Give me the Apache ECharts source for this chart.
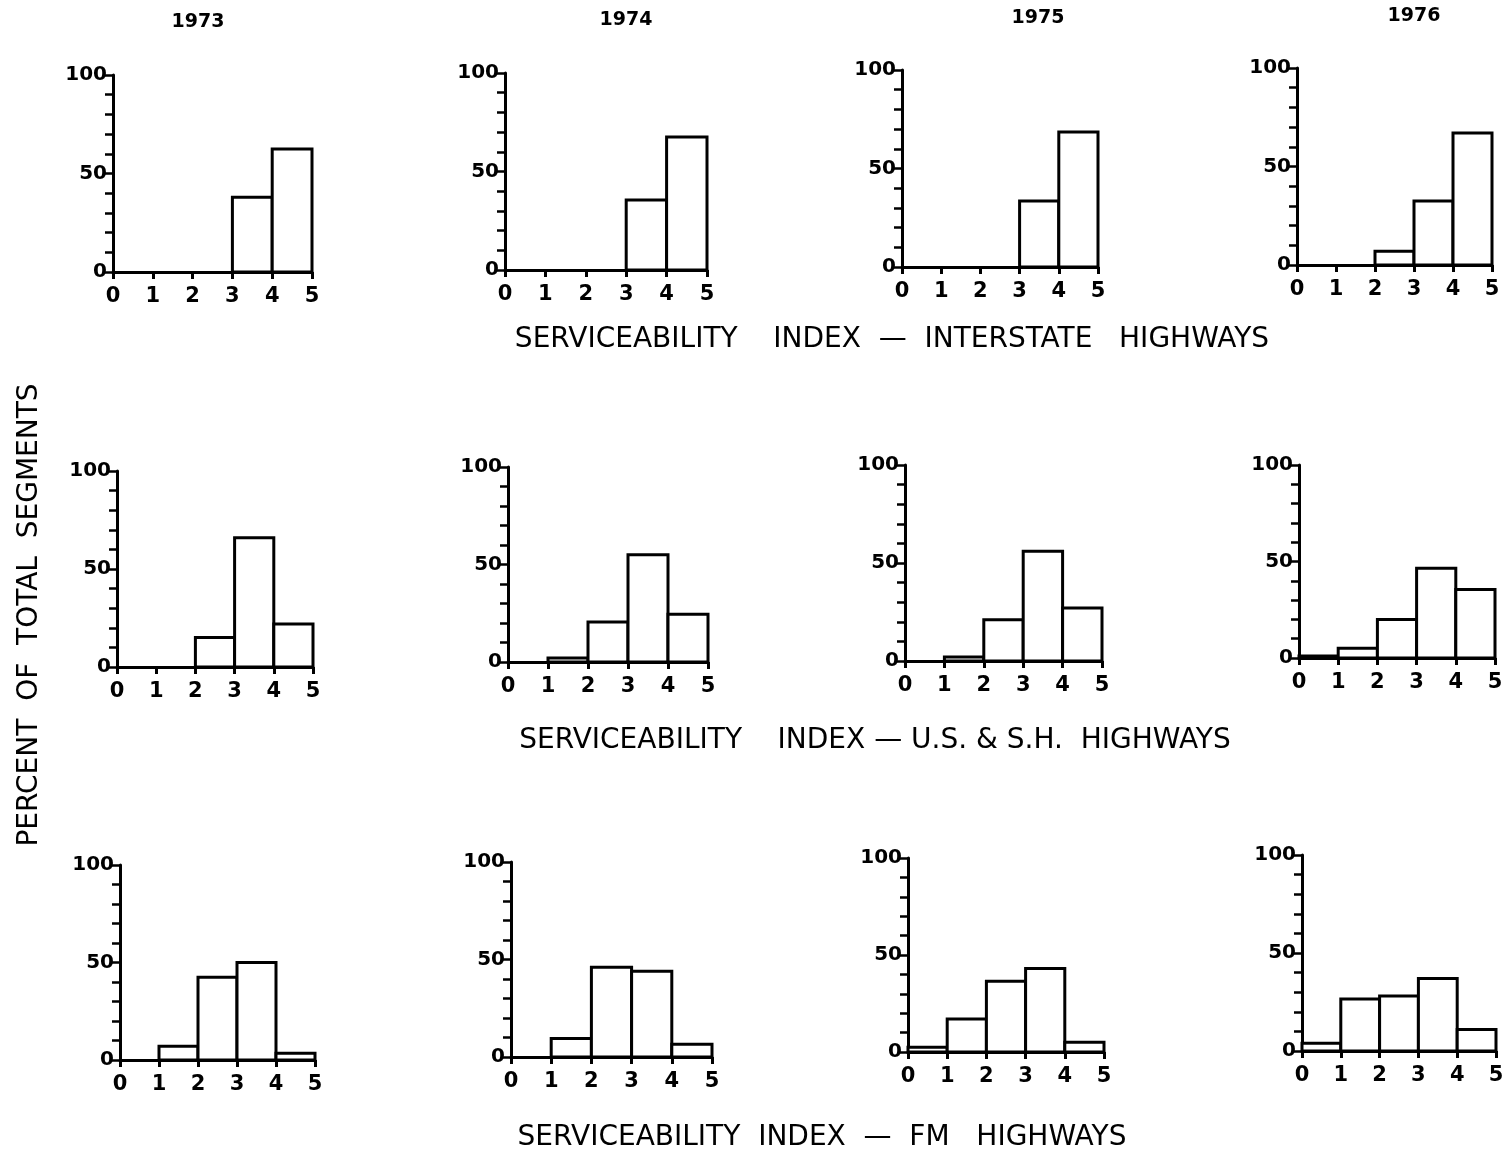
<!DOCTYPE html>
<html>
<head>
<meta charset="utf-8">
<script src="https://cdn.jsdelivr.net/npm/echarts@6/dist/echarts.min.js"></script>
<style>
html,body{margin:0;padding:0;background:#fff;}
#c{width:1511px;height:1154px;}
</style>
</head>
<body>
<div id="c"></div>
<script>
// ---- data ----
const years = ['1973', '1974', '1975', '1976'];
const binEdges = [0, 1, 2, 3, 4, 5];            // x tick labels (serviceability index)
const yTickLabels = [0, 50, 100];               // labelled y ticks
const rowCaptions = [
  'SERVICEABILITY    INDEX  —  INTERSTATE   HIGHWAYS',
  'SERVICEABILITY    INDEX — U.S. & S.H.  HIGHWAYS',
  'SERVICEABILITY  INDEX  —  FM   HIGHWAYS'
];
const yAxisTitle = 'PERCENT  OF  TOTAL  SEGMENTS';

// percent of total segments per index bin [0-1, 1-2, 2-3, 3-4, 4-5]
const interstate1973 = [0, 0, 0, 38, 62.5];
const interstate1974 = [0, 0, 0, 35.5, 67.5];
const interstate1975 = [0, 0, 0, 33.5, 68.5];
const interstate1976 = [0, 0, 7, 32.5, 67];
const usSh1973 = [0, 0, 15, 66, 22];
const usSh1974 = [0, 2, 20.5, 55, 24.5];
const usSh1975 = [0, 2, 21, 56, 27];
const usSh1976 = [1, 5, 20, 46.5, 35.5];
const fm1973 = [0, 7, 42.5, 50, 3.5];
const fm1974 = [0, 9.5, 46, 44, 6.5];
const fm1975 = [2.5, 17, 36.5, 43, 5];
const fm1976 = [4, 26.5, 28, 37, 11];

const panelData = [
  [interstate1973, interstate1974, interstate1975, interstate1976],
  [usSh1973, usSh1974, usSh1975, usSh1976],
  [fm1973, fm1974, fm1975, fm1976]
];

// ---- layout (pixels) ----
const gridBoxes = [
  [[113, 75, 199, 197], [505, 73, 202, 197], [902, 70, 196, 197], [1297, 68, 195, 197]],
  [[117, 471, 196, 196], [508, 467, 200, 195], [905, 465, 197, 196], [1299, 465, 196, 193]],
  [[120, 865, 195, 195], [511, 862, 201, 195], [908, 858, 196, 194], [1302, 855, 194, 196]]
];
const yearPos = [[198, 22], [626, 20], [1038, 18], [1414, 16]];
const captionPos = [[892, 340], [875, 741], [822, 1138]];

const FONT = '"DejaVu Sans", "Liberation Sans", sans-serif';
const grids = [], xAxes = [], yAxes = [], series = [];
let idx = 0;
for (let r = 0; r < 3; r++) {
  for (let c = 0; c < 4; c++) {
    const b = gridBoxes[r][c];
    grids.push({left: b[0], top: b[1], width: b[2], height: b[3], containLabel: false, outerBoundsMode: 'none'});
    xAxes.push({
      type: 'value', gridIndex: idx, min: binEdges[0], max: binEdges[binEdges.length - 1], interval: 1,
      axisLine: {show: true, onZero: false, lineStyle: {color: '#000', width: 3}},
      axisTick: {show: true, inside: false, length: 7, lineStyle: {color: '#000', width: 3}},
      axisLabel: {color: '#000', fontSize: 21, fontWeight: 'bold', fontFamily: FONT, margin: 14,
        formatter: v => binEdges.includes(v) ? String(v) : ''},
      splitLine: {show: false}
    });
    yAxes.push({
      type: 'value', gridIndex: idx, min: 0, max: 100, interval: 10,
      axisLine: {show: true, lineStyle: {color: '#000', width: 3}},
      axisTick: {show: true, inside: false, length: 8, lineStyle: {color: '#000', width: 2.5}},
      axisLabel: {color: '#000', fontSize: 20, fontWeight: 'bold', fontFamily: FONT, margin: 6,
        formatter: v => yTickLabels.includes(v) ? String(v) : ''},
      splitLine: {show: false}
    });
    const vals = panelData[r][c];
    series.push({
      type: 'custom', xAxisIndex: idx, yAxisIndex: idx, z: 1,
      data: vals.map((v, i) => [binEdges[i], binEdges[i + 1], v]),
      encode: {x: [0, 1], y: 2},
      renderItem: function (params, api) {
        const v = api.value(2);
        if (!v) return null;
        const p1 = api.coord([api.value(0), v]);
        const p2 = api.coord([api.value(1), 0]);
        return {
          type: 'rect',
          shape: {x: p1[0], y: p1[1], width: p2[0] - p1[0], height: p2[1] - p1[1]},
          style: {fill: '#fff', stroke: '#000', lineWidth: 3}
        };
      }
    });
    idx++;
  }
}

const graphic = [];
years.forEach((y, i) => {
  graphic.push({type: 'text', x: yearPos[i][0], y: yearPos[i][1],
    style: {text: y, font: 'bold 19px ' + FONT, fill: '#000', align: 'center', verticalAlign: 'middle'}});
});
rowCaptions.forEach((t, i) => {
  graphic.push({type: 'text', x: captionPos[i][0], y: captionPos[i][1],
    style: {text: t, font: '28px ' + FONT, fill: '#000', align: 'center', verticalAlign: 'middle'}});
});
graphic.push({type: 'text', x: 30, y: 615, rotation: Math.PI / 2,
  style: {text: yAxisTitle, font: '28px ' + FONT, fill: '#000', align: 'center', verticalAlign: 'middle'}});

const chart = echarts.init(document.getElementById('c'), null, {renderer: 'canvas'});
chart.setOption({
  backgroundColor: '#fff',
  animation: false,
  grid: grids, xAxis: xAxes, yAxis: yAxes, series: series,
  graphic: graphic
});
</script>
</body>
</html>
